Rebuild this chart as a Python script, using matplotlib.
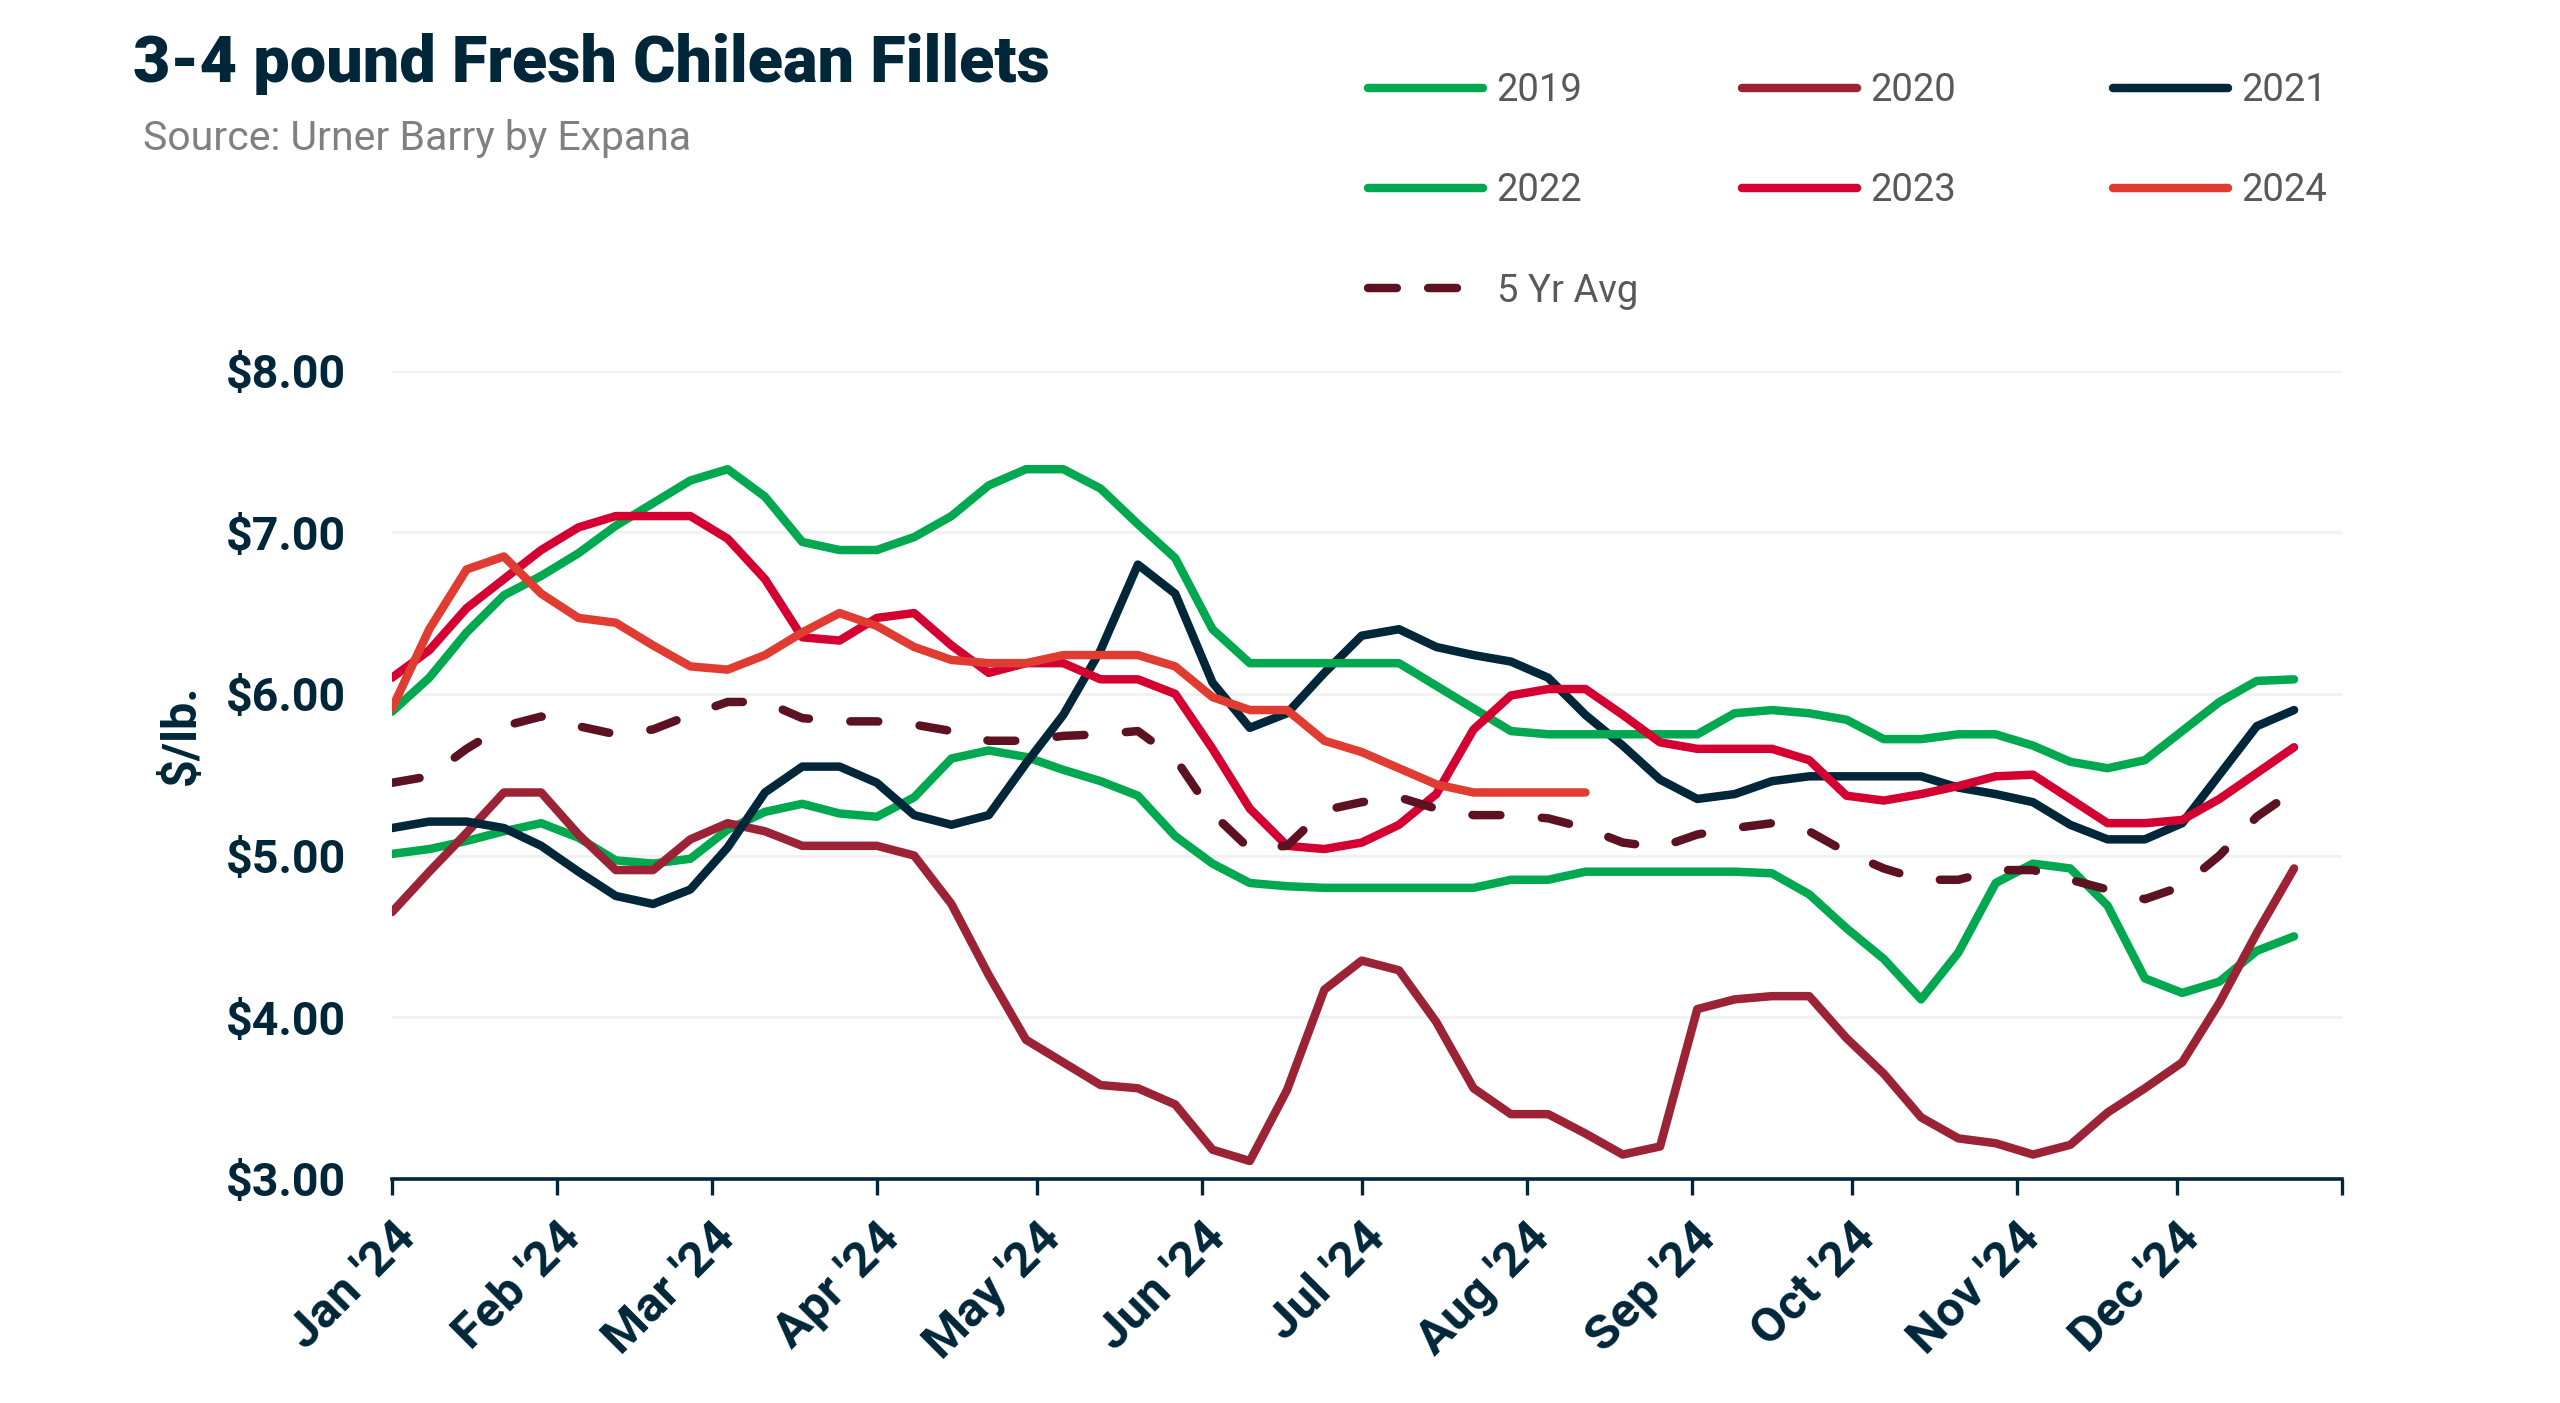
import numpy as np
import pandas as pd
import matplotlib
matplotlib.use("Agg")
import matplotlib.pyplot as plt
from matplotlib.lines import Line2D

plt.rcParams['font.family'] = ['Roboto', 'DejaVu Sans']

# weekly prices, $/lb, one point per week starting Mon Jan 1
weeks = pd.date_range("2024-01-01", periods=52, freq="7D")

p2019 = [5.01, 5.04, 5.09, 5.15, 5.20, 5.11, 4.97, 4.95, 4.98, 5.16,
         5.27, 5.32, 5.26, 5.24, 5.36, 5.60, 5.65, 5.61, 5.53, 5.46,
         5.37, 5.12, 4.95, 4.83, 4.81, 4.80, 4.80, 4.80, 4.80, 4.80,
         4.85, 4.85, 4.90, 4.90, 4.90, 4.90, 4.90, 4.89, 4.76, 4.55,
         4.36, 4.11, 4.40, 4.83, 4.95, 4.92, 4.69, 4.24, 4.15, 4.22,
         4.41, 4.50]
p2020 = [4.65, 4.90, 5.14, 5.39, 5.39, 5.13, 4.91, 4.91, 5.10, 5.20,
         5.15, 5.06, 5.06, 5.06, 5.00, 4.70, 4.26, 3.86, 3.72, 3.58,
         3.56, 3.46, 3.18, 3.11, 3.55, 4.17, 4.35, 4.29, 3.97, 3.56,
         3.40, 3.40, 3.28, 3.15, 3.20, 4.05, 4.11, 4.13, 4.13, 3.87,
         3.65, 3.38, 3.25, 3.22, 3.15, 3.21, 3.41, 3.56, 3.72, 4.09,
         4.52, 4.92]
p2021 = [5.17, 5.21, 5.21, 5.17, 5.06, 4.90, 4.75, 4.70, 4.79, 5.05,
         5.39, 5.55, 5.55, 5.45, 5.25, 5.19, 5.25, 5.57, 5.87, 6.27,
         6.80, 6.62, 6.07, 5.79, 5.88, 6.13, 6.36, 6.40, 6.29, 6.24,
         6.20, 6.10, 5.87, 5.68, 5.47, 5.35, 5.38, 5.46, 5.49, 5.49,
         5.49, 5.49, 5.42, 5.38, 5.33, 5.19, 5.10, 5.10, 5.20, 5.50,
         5.80, 5.90]
p2022 = [5.89, 6.10, 6.38, 6.61, 6.73, 6.87, 7.04, 7.18, 7.32, 7.39,
         7.22, 6.94, 6.89, 6.89, 6.97, 7.10, 7.29, 7.39, 7.39, 7.27,
         7.05, 6.84, 6.40, 6.19, 6.19, 6.19, 6.19, 6.19, 6.05, 5.91,
         5.77, 5.75, 5.75, 5.75, 5.75, 5.75, 5.88, 5.90, 5.88, 5.84,
         5.72, 5.72, 5.75, 5.75, 5.68, 5.58, 5.54, 5.59, 5.77, 5.95,
         6.08, 6.09]
p2023 = [6.10, 6.27, 6.53, 6.71, 6.89, 7.03, 7.10, 7.10, 7.10, 6.96,
         6.71, 6.35, 6.33, 6.47, 6.50, 6.30, 6.13, 6.19, 6.19, 6.09,
         6.09, 6.00, 5.66, 5.29, 5.06, 5.04, 5.08, 5.19, 5.38, 5.78,
         5.99, 6.03, 6.03, 5.87, 5.70, 5.66, 5.66, 5.66, 5.59, 5.37,
         5.34, 5.38, 5.43, 5.49, 5.50, 5.35, 5.20, 5.20, 5.22, 5.35,
         5.51, 5.67]
p2024 = [5.91, 6.40, 6.77, 6.85, 6.62, 6.47, 6.44, 6.30, 6.17, 6.15,
         6.24, 6.38, 6.50, 6.42, 6.29, 6.21, 6.19, 6.19, 6.24, 6.24,
         6.24, 6.17, 5.98, 5.90, 5.90, 5.71, 5.64, 5.54, 5.44, 5.39,
         5.39, 5.39, 5.39]
avg5 = [5.45, 5.49, 5.66, 5.80, 5.86, 5.80, 5.75, 5.78, 5.87, 5.95,
        5.95, 5.85, 5.83, 5.83, 5.81, 5.77, 5.71, 5.71, 5.74, 5.75,
        5.77, 5.60, 5.26, 5.04, 5.06, 5.28, 5.33, 5.36, 5.29, 5.25,
        5.25, 5.23, 5.17, 5.08, 5.05, 5.13, 5.17, 5.20, 5.15, 5.02,
        4.92, 4.85, 4.85, 4.91, 4.91, 4.85, 4.79, 4.73, 4.81, 5.00,
        5.24, 5.40]

month_labels = ["Jan '24", "Feb '24", "Mar '24", "Apr '24", "May '24", "Jun '24",
                "Jul '24", "Aug '24", "Sep '24", "Oct '24", "Nov '24", "Dec '24", ""]
month_ticks = pd.date_range("2024-01-01", "2025-01-01", freq="MS")

NAVY = "#002639"
GREEN = "#00A84F"
AVG_COL = "#5C1220"

series = [
    ("2019", p2019, GREEN),
    ("2020", p2020, "#9B2335"),
    ("2021", p2021, NAVY),
    ("2022", p2022, GREEN),
    ("2023", p2023, "#D50032"),
    ("2024", p2024, "#E03C31"),
]

fig = plt.figure(figsize=(25.6, 14.03), dpi=100)
ax = fig.add_axes([392/2560, 1 - 1178.8/1403, 1950/2560, 808.2/1403])

lw = 6.1
handles = {}
for name, vals, col in series:
    ln, = ax.plot(weeks[:len(vals)], vals, color=col, lw=lw,
                  solid_capstyle='round', solid_joinstyle='round', label=name)
    handles[name] = ln
ln, = ax.plot(weeks, avg5, color=AVG_COL, lw=lw, dash_capstyle='round',
              label="5 Yr Avg")
ln.set_dashes((3.3, 4.9))
# legend swatch shows two longer dashes, as in the original
avg_handle = Line2D([], [], color=AVG_COL, lw=lw, dash_capstyle='round')
avg_handle.set_dashes((3.4, 3.7))
handles["5 Yr Avg"] = avg_handle

ax.set_xlim(pd.Timestamp("2024-01-01"), pd.Timestamp("2025-01-01"))
ax.set_ylim(3, 8)
ax.set_yticks([3, 4, 5, 6, 7, 8])
ax.set_yticklabels([f"${v:.2f}" for v in [3, 4, 5, 6, 7, 8]])
ax.set_xticks(month_ticks)
ax.set_xticklabels(month_labels)

ax.grid(axis='y', color="#F2F2F2", lw=2.2)
ax.set_axisbelow(True)
for s in ['left', 'right', 'top']:
    ax.spines[s].set_visible(False)
ax.spines['bottom'].set_color(NAVY)
ax.spines['bottom'].set_linewidth(2.6)
ax.spines['bottom'].set_zorder(5)

ax.tick_params(axis='y', length=0, pad=33, labelsize=33.5, labelcolor=NAVY)
ax.tick_params(axis='x', length=11.5, width=2.4, color=NAVY, pad=14,
               labelsize=35.5, labelcolor=NAVY)
for t in ax.get_yticklabels():
    t.set_fontweight('bold')
for t in ax.get_xticklabels():
    t.set_fontweight('bold')
    t.set_rotation(45)
    t.set_ha('right')
    t.set_rotation_mode('anchor')

ax.set_ylabel("$/lb.", fontsize=35, fontweight='bold', color=NAVY)
ax.yaxis.set_label_coords(-0.096, 0.55)

# legend: three equal-width columns, filled row by row
cols = [["2019", "2022", "5 Yr Avg"], ["2020", "2023"], ["2021", "2024"]]
col_x = [1368/2560, 1742/2560, 2113/2560]
for i, names in enumerate(cols):
    leg = ax.legend([handles[n] for n in names], names,
                    loc='upper left', bbox_to_anchor=(col_x[i], 1 - 72/1403),
                    bbox_transform=fig.transFigure, frameon=False,
                    fontsize=27.5, labelcolor="#595959", handlelength=3.0,
                    handletextpad=0.37, labelspacing=1.66, borderpad=0,
                    borderaxespad=0)
    if i < len(cols) - 1:
        ax.add_artist(leg)

fig.text(133/2560, 1 - 82/1403, "3-4 pound Fresh Chilean Fillets",
         fontsize=46.6, fontweight='black', color=NAVY, va='baseline')
fig.text(143/2560, 1 - 150/1403, "Source: Urner Barry by Expana",
         fontsize=29.5, color="#808080", va='baseline')

fig.savefig("out.png", dpi=100, facecolor='white')
